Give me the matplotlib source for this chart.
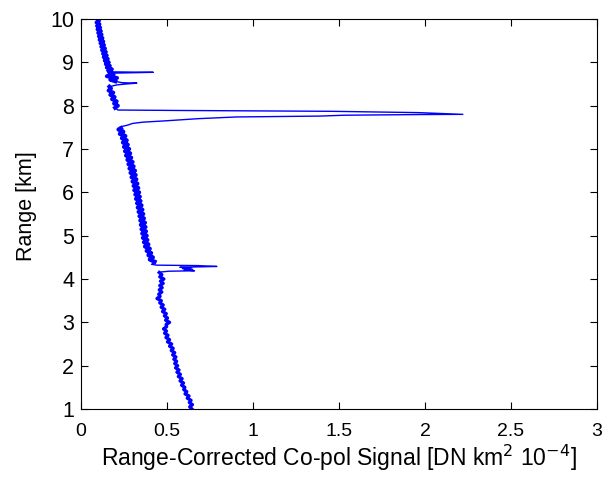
import matplotlib
matplotlib.use("Agg")
import matplotlib.pyplot as plt

# ---------------------------------------------------------------------------
# Data (range in km, signal in DN km^2 10^-4)
# ---------------------------------------------------------------------------

# lower part, 1 - 4.15 km
range_low = [1.00, 1.05, 1.10, 1.15, 1.20, 1.25, 1.30, 1.35, 1.40, 1.45,
             1.50, 1.55, 1.60, 1.65, 1.70, 1.75, 1.80, 1.85, 1.90, 1.95,
             2.00, 2.05, 2.10, 2.15, 2.20, 2.25, 2.30, 2.35, 2.40, 2.45,
             2.50, 2.55, 2.60, 2.65, 2.70, 2.75, 2.80, 2.85, 2.90, 2.95,
             3.00, 3.05, 3.10, 3.15, 3.20, 3.25, 3.30, 3.35, 3.40, 3.45,
             3.50, 3.55, 3.60, 3.65, 3.70, 3.75, 3.80, 3.85, 3.90, 3.95,
             4.00, 4.05, 4.10, 4.15]
signal_low = [0.645, 0.632, 0.648, 0.630, 0.640, 0.618, 0.628, 0.605, 0.615, 0.597,
              0.604, 0.585, 0.596, 0.576, 0.588, 0.566, 0.578, 0.558, 0.570, 0.550,
              0.562, 0.545, 0.556, 0.540, 0.552, 0.533, 0.545, 0.525, 0.536, 0.515,
              0.527, 0.503, 0.515, 0.494, 0.506, 0.486, 0.497, 0.480, 0.498, 0.495,
              0.515, 0.492, 0.503, 0.485, 0.496, 0.474, 0.487, 0.466, 0.478, 0.458,
              0.467, 0.442, 0.460, 0.452, 0.470, 0.455, 0.472, 0.458, 0.478, 0.462,
              0.482, 0.458, 0.470, 0.455]

# first cloud layer near 4.3 km
range_cloud1 = [4.16, 4.18, 4.19, 4.21, 4.22, 4.24, 4.26, 4.27, 4.29, 4.31,
                4.32, 4.34, 4.37]
signal_cloud1 = [0.460, 0.510, 0.660, 0.600, 0.650, 0.590, 0.640, 0.575, 0.790, 0.680,
                 0.440, 0.410, 0.425]

# middle part, 4.4 - 7.5 km
range_mid = [4.40, 4.45, 4.50, 4.55, 4.60, 4.65, 4.70, 4.75, 4.80, 4.85,
             4.90, 4.95, 5.00, 5.05, 5.10, 5.15, 5.20, 5.25, 5.30, 5.35,
             5.40, 5.45, 5.50, 5.55, 5.60, 5.65, 5.70, 5.75, 5.80, 5.85,
             5.90, 5.95, 6.00, 6.05, 6.10, 6.15, 6.20, 6.25, 6.30, 6.35,
             6.40, 6.45, 6.50, 6.55, 6.60, 6.65, 6.70, 6.75, 6.80, 6.85,
             6.90, 6.95, 7.00, 7.05, 7.10, 7.15, 7.20, 7.25, 7.30, 7.35,
             7.40, 7.45, 7.48]
signal_mid = [0.428, 0.400, 0.418, 0.392, 0.408, 0.382, 0.400, 0.372, 0.392, 0.366,
              0.386, 0.360, 0.382, 0.356, 0.378, 0.352, 0.375, 0.348, 0.372, 0.345,
              0.366, 0.340, 0.362, 0.335, 0.357, 0.330, 0.352, 0.326, 0.346, 0.320,
              0.342, 0.316, 0.338, 0.310, 0.333, 0.306, 0.328, 0.300, 0.322, 0.294,
              0.318, 0.288, 0.314, 0.282, 0.306, 0.276, 0.300, 0.270, 0.292, 0.262,
              0.286, 0.256, 0.280, 0.250, 0.272, 0.244, 0.266, 0.238, 0.258, 0.226,
              0.246, 0.218, 0.232]

# main cloud layer near 7.8 km
range_cloud2 = [7.51, 7.55, 7.59, 7.62, 7.65, 7.68, 7.70, 7.74, 7.76, 7.78,
                7.795, 7.80, 7.84, 7.87, 7.89, 7.90]
signal_cloud2 = [0.227, 0.270, 0.300, 0.360, 0.490, 0.600, 0.680, 0.905, 1.390, 1.530,
                 1.960, 2.220, 1.960, 1.460, 0.550, 0.215]

# upper part, 7.95 - 8.44 km
range_high_a = [7.95, 8.00, 8.05, 8.10, 8.15, 8.20, 8.25, 8.30, 8.35, 8.40, 8.44]
signal_high_a = [0.198, 0.215, 0.192, 0.208, 0.180, 0.196, 0.170, 0.188, 0.160, 0.175,
                 0.165]

# thin layer near 8.5 km
range_layer3 = [8.48, 8.50, 8.52, 8.53]
signal_layer3 = [0.210, 0.260, 0.325, 0.240]

# between the two thin layers
range_high_b = [8.56, 8.60, 8.64, 8.68, 8.72, 8.75]
signal_high_b = [0.200, 0.170, 0.210, 0.150, 0.190, 0.170]

# thin layer near 8.8 km
range_layer4 = [8.77, 8.78]
signal_layer4 = [0.420, 0.190]

# top part, 8.8 - 10 km
range_high_c = [8.80, 8.84, 8.88, 8.92, 8.96, 9.00, 9.04, 9.08, 9.12, 9.16,
                9.20, 9.24, 9.28, 9.32, 9.36, 9.40, 9.44, 9.48, 9.52, 9.56,
                9.60, 9.64, 9.68, 9.72, 9.76, 9.80, 9.84, 9.88, 9.92, 9.96,
                10.00]
signal_high_c = [0.160, 0.180, 0.150, 0.168, 0.144, 0.162, 0.138, 0.156, 0.132, 0.150,
                 0.128, 0.145, 0.122, 0.140, 0.118, 0.134, 0.113, 0.130, 0.108, 0.125,
                 0.104, 0.120, 0.100, 0.116, 0.096, 0.112, 0.093, 0.108, 0.090, 0.105,
                 0.095]

xticks = [0, 0.5, 1, 1.5, 2, 2.5, 3]
xticklabels = ['0', '0.5', '1', '1.5', '2', '2.5', '3']
yticks = [1, 2, 3, 4, 5, 6, 7, 8, 9, 10]

# ---------------------------------------------------------------------------
# Plot
# ---------------------------------------------------------------------------

plt.rcParams['font.family'] = ['Liberation Sans', 'DejaVu Sans']

range_all = (range_low + range_cloud1 + range_mid + range_cloud2 + range_high_a
             + range_layer3 + range_high_b + range_layer4 + range_high_c)
signal_all = (signal_low + signal_cloud1 + signal_mid + signal_cloud2 + signal_high_a
              + signal_layer3 + signal_high_b + signal_layer4 + signal_high_c)

fig = plt.figure(figsize=(6.13, 4.79), dpi=100)
ax = fig.add_axes([0.1321, 0.1461, 0.8418, 0.8142])

blue = '#0000ff'
# whole profile as a thin line (the cloud spikes)
ax.plot(signal_all, range_all, color=blue, linewidth=1.0)
# noisy clear-air parts look like a thick band
ax.plot(signal_low, range_low, color=blue, linewidth=2.4)
ax.plot(signal_mid, range_mid, color=blue, linewidth=3.0)
ax.plot(signal_high_a, range_high_a, color=blue, linewidth=2.8)
ax.plot(signal_high_b, range_high_b, color=blue, linewidth=2.8)
ax.plot(signal_high_c, range_high_c, color=blue, linewidth=2.8)

ax.set_xlim(0, 3)
ax.set_ylim(1, 10)
ax.set_xticks(xticks)
ax.set_xticklabels(xticklabels)
ax.set_yticks(yticks)
ax.tick_params(direction='in', top=True, right=True, length=5, width=0.8)
ax.tick_params(axis='x', labelsize=14, pad=10)
ax.tick_params(axis='y', labelsize=15.5, pad=5)
for s in ax.spines.values():
    s.set_linewidth(0.8)

ax.set_xlabel(r'Range-Corrected Co-pol Signal [DN km$^2$ 10$^{-4}$]', fontsize=16.5, labelpad=2)
ax.set_ylabel('Range [km]', fontsize=15.5)
ax.yaxis.set_label_coords(-0.085, 0.52)

plt.savefig('out.png', dpi=100)
